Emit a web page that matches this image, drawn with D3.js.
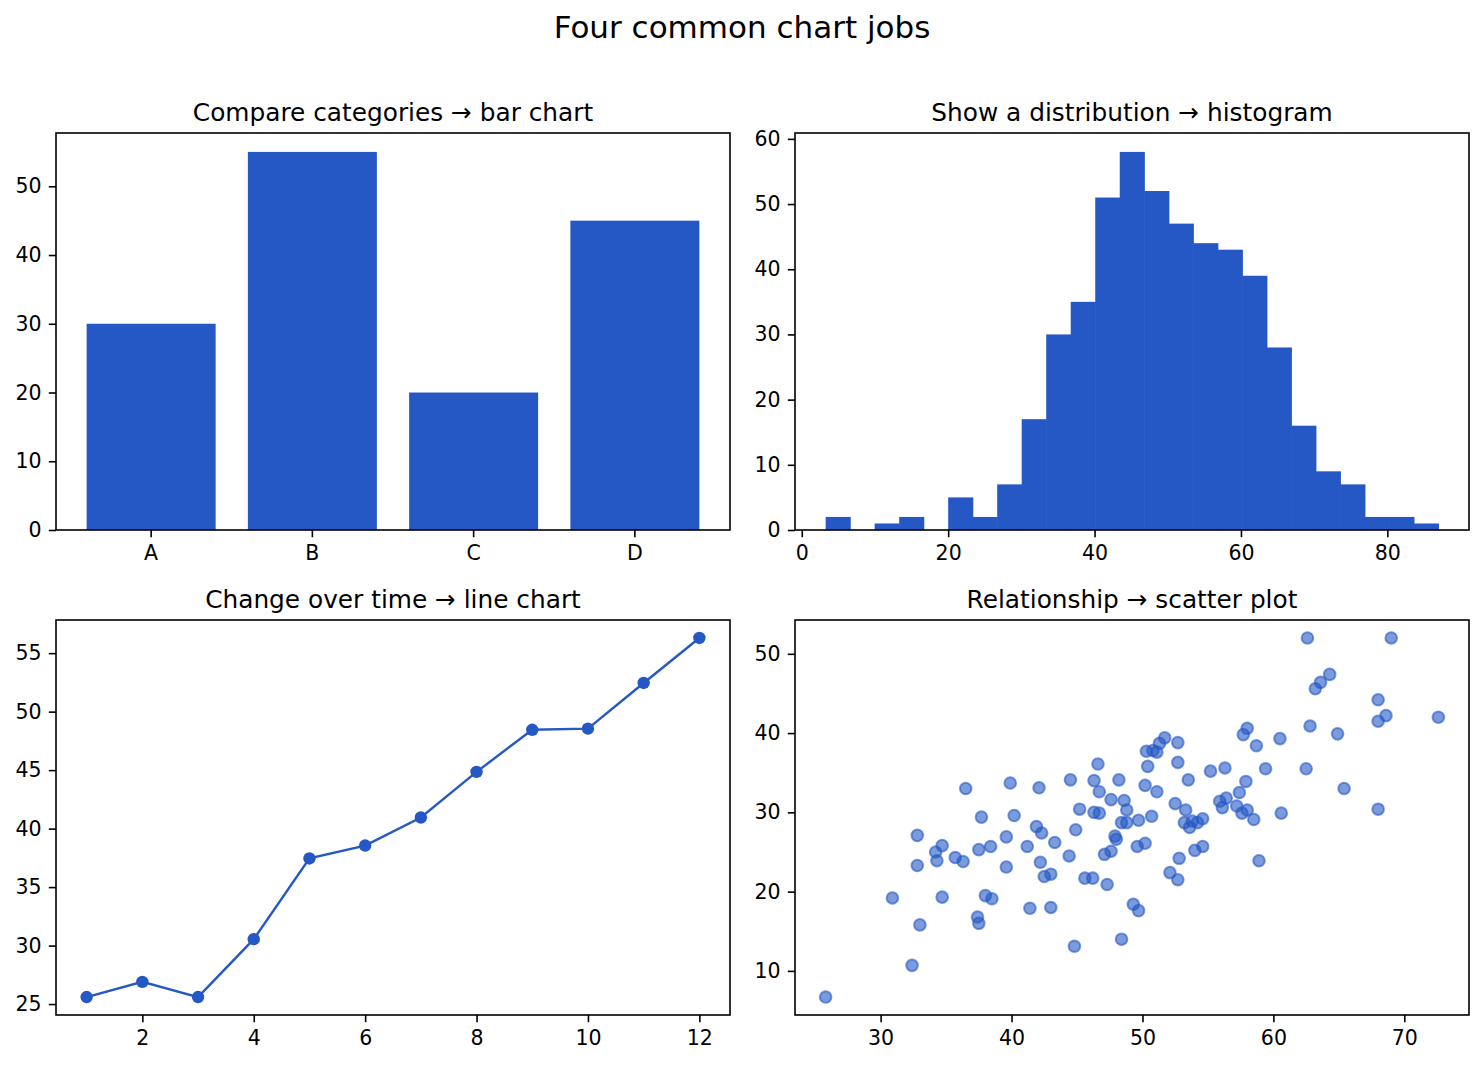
<!DOCTYPE html>
<html>
<head>
<meta charset="utf-8">
<script src="https://cdn.jsdelivr.net/npm/d3@7"></script>
<style>
  body { margin: 0; background: #fff; }
  svg { display: block; font-family: "DejaVu Sans", sans-serif; }
</style>
</head>
<body>
<svg id="chart" width="1484" height="1066"></svg>
<script>
/* data */
const barCategories = ['A', 'B', 'C', 'D'];
const barValues = [30, 55, 20, 45];
const barYTicks = [0, 10, 20, 30, 40, 50];

// 25 bins between the first and last edge
const histCounts = [2, 0, 1, 2, 0, 5, 2, 7, 17, 30, 35, 51, 58, 52, 47, 44, 43, 39, 28, 16, 9, 7, 2, 2, 1];
const histEdges = [3.26, 86.97];
const histXTicks = [0, 20, 40, 60, 80];
const histYTicks = [0, 10, 20, 30, 40, 50, 60];

const lineX = [1, 2, 3, 4, 5, 6, 7, 8, 9, 10, 11, 12];
const lineY = [25.6, 26.9, 25.6, 30.55, 37.45, 38.55, 40.95, 44.85, 48.45, 48.55, 52.45, 56.3];
const lineXTicks = [2, 4, 6, 8, 10, 12];
const lineYTicks = [25, 30, 35, 40, 45, 50, 55];

const scatterX = [36.5, 39.9, 42.1, 44.5, 46.3, 48.2, 46.6, 46.7, 47.6, 48.6,
  50.2, 51.1, 50.4, 50.3, 50.8, 51.1, 51.3, 51.7, 52.7, 52.7,
  53.5, 55.2, 56.3, 58.0, 57.7, 57.9, 57.4, 58.7, 60.5, 59.4,
  62.5, 62.8, 64.9, 62.6, 69.0, 64.3, 63.6, 63.2, 68.0, 68.6,
  68.0, 72.6, 65.4, 52.5, 55.9, 56.4, 37.7, 40.2, 45.2, 46.3,
  46.7, 48.8, 48.4, 48.8, 49.7, 50.7, 53.3, 53.2, 53.6, 53.8,
  54.2, 54.6, 56.1, 57.2, 58.0, 57.6, 58.5, 60.6, 68.0, 32.8,
  41.9, 42.3, 39.6, 34.7, 34.2, 34.3, 35.7, 36.3, 37.5, 38.4,
  41.2, 32.8, 39.6, 42.2, 42.5, 43.0, 43.3, 44.4, 44.9, 47.9,
  48.0, 47.1, 47.6, 49.6, 50.2, 52.8, 54.0, 54.6, 52.1, 52.7,
  45.6, 46.2, 58.9, 47.3, 30.9, 34.7, 38.0, 38.5, 41.4, 43.0,
  49.3, 49.7, 33.0, 37.4, 37.5, 48.4, 44.8, 32.4, 25.8];
const scatterY = [33.0, 33.7, 33.1, 34.1, 34.0, 34.1, 36.1, 32.6, 31.6, 31.5,
  33.4, 32.6, 35.8, 37.7, 37.8, 37.6, 38.7, 39.4, 38.8, 36.3,
  34.1, 35.2, 35.6, 40.6, 39.8, 33.9, 32.5, 38.4, 39.3, 35.5,
  35.5, 40.9, 39.9, 52.0, 52.0, 47.4, 46.4, 45.6, 44.2, 42.2,
  41.5, 42.0, 33.0, 31.1, 31.4, 31.8, 29.4, 29.6, 30.4, 30.0,
  29.9, 30.3, 28.7, 28.7, 29.0, 29.5, 30.3, 28.7, 28.1, 28.9,
  28.7, 29.2, 30.6, 30.8, 30.3, 29.9, 29.1, 29.9, 30.4, 27.1,
  28.2, 27.4, 26.9, 25.8, 25.0, 23.9, 24.3, 23.8, 25.3, 25.7,
  25.7, 23.3, 23.1, 23.7, 21.9, 22.2, 26.2, 24.5, 27.8, 27.0,
  26.6, 24.7, 25.1, 25.7, 26.1, 24.2, 25.2, 25.7, 22.4, 21.5,
  21.7, 21.7, 23.9, 20.9, 19.2, 19.3, 19.5, 19.1, 17.9, 18.0,
  18.4, 17.6, 15.8, 16.8, 16.0, 14.0, 13.1, 10.7, 6.7];
const scatterXTicks = [30, 40, 50, 60, 70];
const scatterYTicks = [10, 20, 30, 40, 50];

/* layout */
const blue = '#2558c5';
const svg = d3.select('#chart');

const panels = {
  tl: { x: 56, y: 133, w: 674, h: 397, title: 'Compare categories \u2192 bar chart' },
  tr: { x: 795, y: 133, w: 674, h: 397, title: 'Show a distribution \u2192 histogram' },
  bl: { x: 56, y: 620, w: 674, h: 395, title: 'Change over time \u2192 line chart' },
  br: { x: 795, y: 620, w: 674, h: 395, title: 'Relationship \u2192 scatter plot' }
};

svg.append('text')
  .attr('x', 742).attr('y', 38)
  .attr('text-anchor', 'middle')
  .attr('font-size', 31)
  .text('Four common chart jobs');

// matplotlib-style 5% margin
function pad(ext) {
  const d = (ext[1] - ext[0]) * 0.05;
  return [ext[0] - d, ext[1] + d];
}

function makePanel(p) {
  const g = svg.append('g').attr('transform', `translate(${p.x},${p.y})`);
  g.append('text')
    .attr('x', p.w / 2).attr('y', -12.5)
    .attr('text-anchor', 'middle')
    .attr('font-size', 24.8)
    .text(p.title);
  return g;
}

function finishPanel(g, p, xAxis, yAxis) {
  const ax = g.append('g').attr('transform', `translate(0,${p.h})`).call(xAxis);
  const ay = g.append('g').call(yAxis);
  [ax, ay].forEach(a => {
    a.attr('font-family', '"DejaVu Sans", sans-serif').attr('font-size', 20.5);
    a.select('.domain').remove();
    a.selectAll('.tick line').attr('stroke', '#000').attr('stroke-width', 1.6);
    a.selectAll('.tick text').attr('fill', '#000');
  });
  g.append('rect')
    .attr('x', 0).attr('y', 0)
    .attr('width', p.w).attr('height', p.h)
    .attr('fill', 'none')
    .attr('stroke', '#000')
    .attr('stroke-width', 1.6);
}

function bottomAxis(x, ticks, fmt) {
  return d3.axisBottom(x).tickValues(ticks).tickFormat(fmt || d3.format('d'))
    .tickSizeOuter(0).tickSize(7.2).tickPadding(8);
}
function leftAxis(y, ticks) {
  return d3.axisLeft(y).tickValues(ticks).tickFormat(d3.format('d'))
    .tickSizeOuter(0).tickSize(7.2).tickPadding(7.2);
}

/* bar chart */
{
  const p = panels.tl;
  const g = makePanel(p);
  const x = d3.scaleBand().domain(barCategories).range([0, p.w])
    .paddingInner(0.2).paddingOuter(0.19);
  const y = d3.scaleLinear().domain([0, d3.max(barValues) * 1.05]).range([p.h, 0]);
  g.selectAll('rect.bar')
    .data(barValues)
    .join('rect')
    .attr('class', 'bar')
    .attr('x', (d, i) => x(barCategories[i]))
    .attr('width', x.bandwidth())
    .attr('y', d => y(d))
    .attr('height', d => y(0) - y(d))
    .attr('fill', blue);
  finishPanel(g, p,
    d3.axisBottom(x).tickSizeOuter(0).tickSize(7.2).tickPadding(8),
    leftAxis(y, barYTicks));
}

/* histogram */
{
  const p = panels.tr;
  const g = makePanel(p);
  const binW = (histEdges[1] - histEdges[0]) / histCounts.length;
  const bins = histCounts.map((c, i) => ({ x0: histEdges[0] + i * binW, x1: histEdges[0] + (i + 1) * binW, c }));
  const x = d3.scaleLinear().domain(pad(histEdges)).range([0, p.w]);
  const y = d3.scaleLinear().domain([0, d3.max(histCounts) * 1.05]).range([p.h, 0]);
  g.selectAll('rect.bin')
    .data(bins.filter(b => b.c > 0))
    .join('rect')
    .attr('class', 'bin')
    .attr('x', d => x(d.x0))
    .attr('width', d => x(d.x1) - x(d.x0) + 0.6)
    .attr('y', d => y(d.c))
    .attr('height', d => y(0) - y(d.c))
    .attr('fill', blue);
  finishPanel(g, p, bottomAxis(x, histXTicks), leftAxis(y, histYTicks));
}

/* line chart */
{
  const p = panels.bl;
  const g = makePanel(p);
  const x = d3.scaleLinear().domain(pad(d3.extent(lineX))).range([0, p.w]);
  const y = d3.scaleLinear().domain(pad(d3.extent(lineY))).range([p.h, 0]);
  const pts = lineX.map((d, i) => [d, lineY[i]]);
  g.append('path')
    .datum(pts)
    .attr('fill', 'none')
    .attr('stroke', blue)
    .attr('stroke-width', 2.4)
    .attr('d', d3.line().x(d => x(d[0])).y(d => y(d[1])));
  g.selectAll('circle')
    .data(pts)
    .join('circle')
    .attr('cx', d => x(d[0]))
    .attr('cy', d => y(d[1]))
    .attr('r', 6.2)
    .attr('fill', blue);
  finishPanel(g, p, bottomAxis(x, lineXTicks), leftAxis(y, lineYTicks));
}

/* scatter plot */
{
  const p = panels.br;
  const g = makePanel(p);
  const x = d3.scaleLinear().domain(pad(d3.extent(scatterX))).range([0, p.w]);
  const y = d3.scaleLinear().domain(pad(d3.extent(scatterY))).range([p.h, 0]);
  g.selectAll('circle')
    .data(scatterX.map((d, i) => [d, scatterY[i]]))
    .join('circle')
    .attr('cx', d => x(d[0]))
    .attr('cy', d => y(d[1]))
    .attr('r', 5.8)
    .attr('fill', blue)
    .attr('fill-opacity', 0.6)
    .attr('stroke', blue)
    .attr('stroke-opacity', 0.6)
    .attr('stroke-width', 2);
  finishPanel(g, p, bottomAxis(x, scatterXTicks), leftAxis(y, scatterYTicks));
}
</script>
</body>
</html>
